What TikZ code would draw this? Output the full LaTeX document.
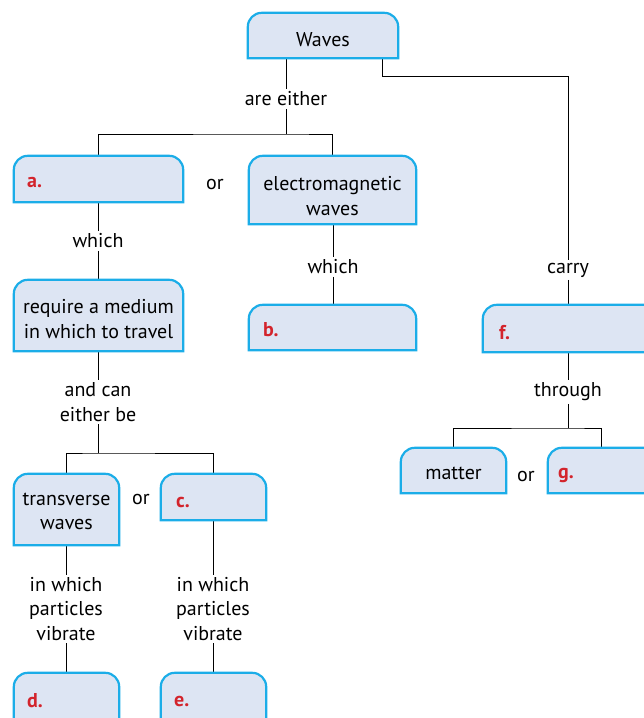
\documentclass[tikz,border=0pt]{standalone}
\usepackage{fontspec}
\setmainfont{PT Sans}
\usetikzlibrary{backgrounds}
\definecolor{boxcyan}{HTML}{1BADE8}
\definecolor{boxfill}{HTML}{DDE5F3}
\definecolor{labred}{HTML}{D3242C}
\tikzset{
 box/.style={rectangle, inner sep=0pt},
 txt/.style={align=center, inner sep=2.5pt, font=\fontsize{20}{24.5}\selectfont},
 lab/.style={anchor=west, inner sep=0pt, text=labred, font=\fontsize{20}{22}\selectfont\bfseries},
 link/.style={draw=black, line width=0.9pt},
 outline/.style={draw=boxcyan, fill=boxfill, line width=2.2pt},
}
\newcommand{\topround}[1]{\path[outline] (#1.south west) [rounded corners=14pt] -- (#1.north west) -- (#1.north east) [sharp corners] -- (#1.south east) -- cycle;}
\begin{document}
\begin{tikzpicture}[x=1pt,y=-1pt]
\useasboundingbox (0,0) rectangle (644,718);
% boxes
\node[box, minimum width=150pt, minimum height=45pt] (waves) at (323,35.5) {};
\node[box, minimum width=169pt, minimum height=46pt] (a) at (98.5,179) {};
\node[box, minimum width=167pt, minimum height=68pt] (em) at (332.5,190) {};
\node[box, minimum width=169pt, minimum height=71pt] (req) at (98.5,315.5) {};
\node[box, minimum width=167pt, minimum height=45pt] (b) at (332.5,327.5) {};
\node[box, minimum width=177pt, minimum height=47pt] (f) at (571.5,328.5) {};
\node[box, minimum width=105pt, minimum height=71pt] (trans) at (66.5,509.5) {};
\node[box, minimum width=105pt, minimum height=46pt] (c) at (213.5,497) {};
\node[box, minimum width=105pt, minimum height=45pt] (matter) at (453.5,470.5) {};
\node[box, minimum width=152pt, minimum height=45pt] (g) at (624,470.5) {};
\node[box, minimum width=105pt, minimum height=57pt] (d) at (66.5,701.5) {};
\node[box, minimum width=105pt, minimum height=57pt] (e) at (213.5,701.5) {};
% box texts
\node[txt] (wavesT) at (323,40) {Waves};
\node[txt] (emT) at (332.5,196) {electromagnetic\\waves};
\node[txt] (reqT) at (98.5,319) {require a medium\\in which to travel};
\node[txt] (transT) at (66.5,511.5) {transverse\\waves};
\node[txt] (matterT) at (453.5,473) {matter};
% labels
\node[lab] (la) at (27,183) {a.};
\node[lab] (lb) at (263,330) {b.};
\node[lab] (lc) at (176,502) {c.};
\node[lab] (ld) at (27,701) {d.};
\node[lab] (le) at (174,701) {e.};
\node[lab] (lf) at (499,333) {f.};
\node[lab] (lg) at (558,475) {g.};
% linking texts
\node[txt] (are) at (286,99) {are either};
\node[txt] (or1) at (215,184) {or};
\node[txt] (which1) at (98,241) {which};
\node[txt] (which2) at (333,267) {which};
\node[txt] (carry) at (568,270) {carry};
\node[txt] (andcan) at (98,402) {and can\\either be};
\node[txt] (through) at (568,392) {through};
\node[txt] (or2) at (141,499) {or};
\node[txt] (or3) at (526,476) {or};
\node[txt] (iw1) at (66,609) {in which\\particles\\vibrate};
\node[txt] (iw2) at (213,609) {in which\\particles\\vibrate};
% helper coordinates
\coordinate (bar1) at (286,134);
\coordinate (wr) at (382,58);
\coordinate (bend) at (568,76);
\coordinate (bar2) at (98,453);
\coordinate (bar3) at (568,428);
\coordinate (gtop) at (601,448);
\begin{scope}[on background layer]
\draw[link] (are.north |- waves.south) -- (are.north);
\draw[link] (are.south) -- (bar1);
\draw[link] (a.north) |- (bar1) -| (em.north);
\draw[link] (wr) |- (bend) -- (carry.north);
\draw[link] (carry.south) -- (carry.south |- f.north);
\draw[link] (which1.north |- a.south) -- (which1.north);
\draw[link] (which1.south) -- (which1.south |- req.north);
\draw[link] (which2.north |- em.south) -- (which2.north);
\draw[link] (which2.south) -- (which2.south |- b.north);
\draw[link] (andcan.north |- req.south) -- (andcan.north);
\draw[link] (andcan.south) -- (bar2);
\draw[link] (trans.north) |- (bar2) -| (c.north);
\draw[link] (iw1.north |- trans.south) -- (iw1.north);
\draw[link] (iw1.south) -- (iw1.south |- d.north);
\draw[link] (iw2.north |- c.south) -- (iw2.north);
\draw[link] (iw2.south) -- (iw2.south |- e.north);
\draw[link] (through.north |- f.south) -- (through.north);
\draw[link] (through.south) -- (bar3);
\draw[link] (matter.north) |- (bar3) -| (gtop);
\foreach \n in {waves,a,em,req,b,f,trans,c,matter,g,d,e} {\topround{\n}}
\end{scope}
\end{tikzpicture}
\end{document}
